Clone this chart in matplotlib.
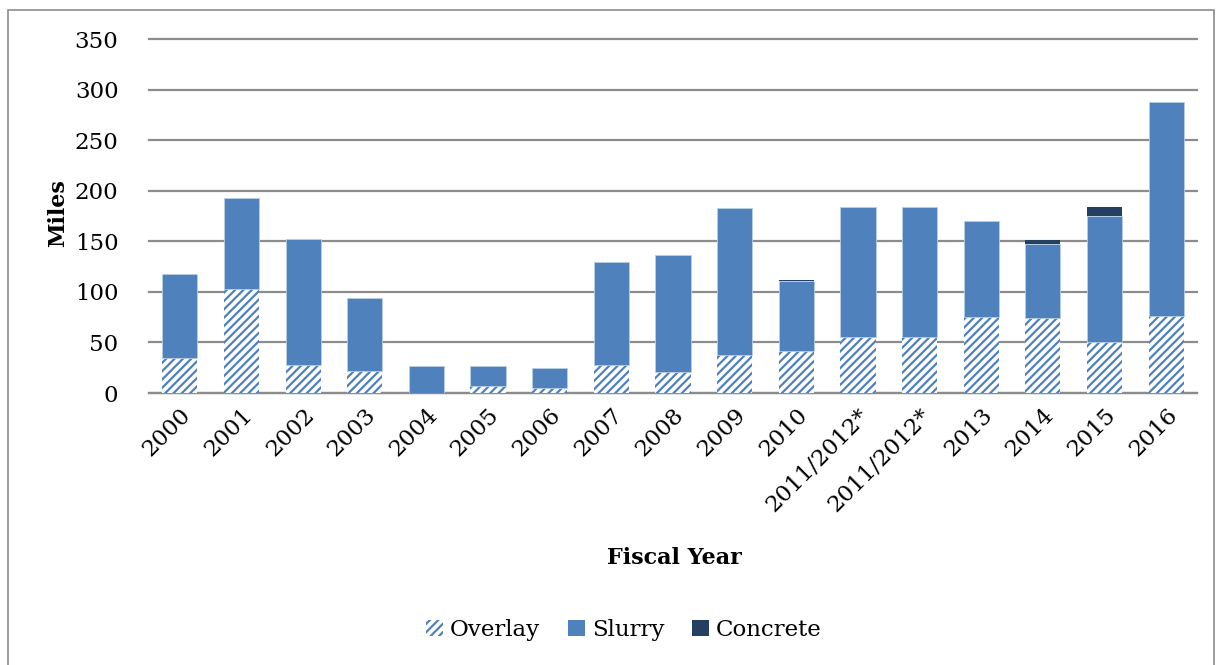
import matplotlib
matplotlib.use("Agg")
import matplotlib.pyplot as plt
from matplotlib.patches import Patch, Rectangle
import numpy as np

# data (miles)
years = ["2000", "2001", "2002", "2003", "2004", "2005", "2006", "2007", "2008",
         "2009", "2010", "2011/2012*", "2011/2012*", "2013", "2014", "2015", "2016"]
overlay = [35, 103, 28, 21.5, 0, 6.5, 4.5, 27.5, 20.5, 38, 42, 55, 55, 75, 74, 50, 76]
slurry = [83, 90, 124, 72.5, 26.5, 20, 20.5, 102, 116, 145, 69, 128.5, 128.5, 95.5, 73.5, 125, 211.5]
concrete = [0, 0, 0, 0, 0, 0, 0, 0, 0, 0, 0.8, 0, 0, 0, 3.7, 9, 0]

BLUE = "#4F81BD"
NAVY = "#243F60"
GRID = "#8C8C8C"

plt.rcParams["font.family"] = ["DejaVu Serif"]
plt.rcParams["hatch.linewidth"] = 1.6

fig = plt.figure(figsize=(12.2, 6.65), dpi=100)
ax = fig.add_axes([149 / 1220, 1 - 393 / 665, 1048 / 1220, 354 / 665])

# outer chart-area border
fig.patches.append(Rectangle((8 / 1220, -0.05), 1206 / 1220, 1 - 10 / 665 + 0.05,
                             transform=fig.transFigure, fill=False,
                             edgecolor="#8C8C8C", linewidth=1.2))

x = np.arange(len(years))
w = 0.57
overlay = np.array(overlay)
slurry = np.array(slurry)
concrete = np.array(concrete)

ax.bar(x, overlay, w, facecolor="white", edgecolor=BLUE, hatch="////",
       linewidth=0, zorder=3)
ax.bar(x, slurry, w, bottom=overlay, color=BLUE, edgecolor="#B9CDE5",
       linewidth=0.6, zorder=3)
ax.bar(x, concrete, w, bottom=overlay + slurry, color=NAVY, linewidth=0, zorder=3)

ax.set_xlim(-0.5, len(years) - 0.5)
ax.set_ylim(0, 350)
ax.set_yticks(range(0, 351, 50))
ax.yaxis.grid(True, color=GRID, linewidth=1.6)
for gl in ax.get_ygridlines():
    gl.set_clip_on(False)
ax.set_axisbelow(True)
for s in ["top", "right", "left"]:
    ax.spines[s].set_visible(False)
ax.spines["bottom"].set_color(GRID)
ax.spines["bottom"].set_linewidth(1.6)
ax.tick_params(axis="both", length=0, labelsize=16.5)
ax.tick_params(axis="y", pad=22)

ax.set_xticks(x)
ax.set_xticklabels(years, rotation=45, ha="right", rotation_mode="anchor")
ax.tick_params(axis="x", pad=8)

fig.text(58 / 1220, 1 - 213 / 665, "Miles", rotation=90, ha="center", va="center",
         fontsize=16, fontweight="bold")
fig.text(674 / 1220, 1 - 558 / 665, "Fiscal Year", ha="center", va="center",
         fontsize=16, fontweight="bold")

handles = [
    Patch(facecolor="white", edgecolor=BLUE, hatch="////", linewidth=0, label="Overlay"),
    Patch(facecolor=BLUE, label="Slurry"),
    Patch(facecolor=NAVY, label="Concrete"),
]
fig.legend(handles=handles, loc="center", bbox_to_anchor=(624 / 1220, 1 - 630 / 665),
           ncol=3, frameon=False, fontsize=16.5, handlelength=0.75, handleheight=0.75,
           handletextpad=0.3, columnspacing=1.2)

fig.savefig("out.png", dpi=100)
